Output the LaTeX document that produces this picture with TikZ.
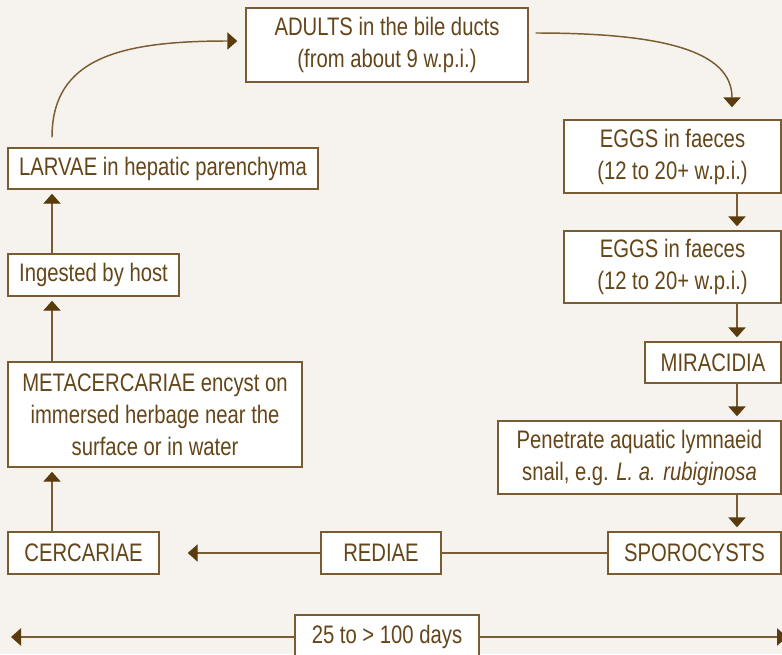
\documentclass[tikz,border=0pt]{standalone}
\usepackage{fontspec}
\setmainfont{Liberation Sans}[FakeStretch=0.80]
\usetikzlibrary{arrows.meta,calc}
\definecolor{paper}{HTML}{F6F3EE}
\definecolor{ink}{HTML}{654619}
\definecolor{rulec}{HTML}{7A5C32}
\definecolor{tipc}{HTML}{5A3B0C}

\tikzset{
  box/.style={draw=rulec,line width=1.1pt,fill=white,text=ink,inner sep=0pt,
    align=center,font=\fontsize{19}{24}\selectfont},
  wh/.style 2 args={minimum width=#1*0.75pt,minimum height=#2*0.75pt},
  plain/.style={draw=rulec,line width=1.1pt},
  link/.style={plain,shorten >=3pt,
    -{Triangle[length=7.5pt,width=13pt,fill=tipc,color=tipc]}}
}

\begin{document}
\begin{tikzpicture}[x=0.75pt,y=-0.75pt]

% canvas
\fill[paper] (0,0) rectangle (782,654);
\useasboundingbox (0,0) rectangle (782,654);

% stages of the life cycle
\node[box,wh={282}{74}] (adults) at (387,45) {ADULTS in the bile ducts\\(from about 9 w.p.i.)};
\node[box,wh={217}{73}] (eggs1) at (672.5,156.5) {EGGS in faeces\\(12 to 20+ w.p.i.)};
\node[box,wh={217}{72}] (eggs2) at (672.5,267) {EGGS in faeces\\(12 to 20+ w.p.i.)};
\node[box,wh={136}{41}] (mira) at (713,362.5) {MIRACIDIA};
\node[box,wh={283}{73}] (snail) at (639.5,457.5) {Penetrate aquatic lymnaeid\\snail, e.g. \textit{L. a. rubiginosa}};
\node[box,wh={173}{42}] (sporo) at (694.5,553) {SPOROCYSTS};
\node[box,wh={120}{42}] (rediae) at (381,553) {REDIAE};
\node[box,wh={151}{42}] (cerc) at (83.5,553) {CERCARIAE};
\node[box,wh={294}{105}] (meta) at (155,414.5) {METACERCARIAE encyst on\\immersed herbage near the\\surface or in water};
\node[box,wh={171}{42}] (ingest) at (93.5,275) {Ingested by host};
\node[box,wh={310}{41}] (larvae) at (163,168.5) {LARVAE in hepatic parenchyma};
\node[box,wh={184}{44}] (days) at (387,637) {25 to > 100 days};

% guide columns for the vertical connectors
\coordinate (rx) at (737,0);
\coordinate (lx) at (52,0);
\coordinate (ex) at (732,0);

% right column, downwards
\draw[link] (eggs1.south -| rx) -- (eggs2.north -| rx);
\draw[link] (eggs2.south -| rx) -- (mira.north -| rx);
\draw[link] (mira.south -| rx) -- (snail.north -| rx);
\draw[link] (snail.south -| rx) -- (sporo.north -| rx);

% bottom row, leftwards
\draw[plain] (sporo.west) -- (rediae.east);
\draw[link,shorten >=21pt] (rediae.west) -- (cerc.east);

% left column, upwards
\draw[link] (cerc.north -| lx) -- (meta.south -| lx);
\draw[link] (meta.north -| lx) -- (ingest.south -| lx);
\draw[link] (ingest.north -| lx) -- (larvae.south -| lx);

% curved links at the top
\coordinate (lv) at ($(larvae.north -| lx)+(0,-10)$);
\coordinate (aw) at ($(adults.west)+(-8,-4)$);
\draw[link,shorten >=0pt] (lv) .. controls (52,58) and (120,41) .. (aw);
\coordinate (ae) at ($(adults.east)+(7,-12)$);
\coordinate (en) at ($(eggs1.north -| ex)+(0,-12)$);
\draw[link,shorten >=0pt] (ae) .. controls (660,33) and (732,50) .. (en);

% duration bar
\coordinate (dl) at (11,637);
\coordinate (dr) at (787,637);
\draw[link,shorten >=0pt] (days.west) -- (dl);
\draw[link,shorten >=0pt] (days.east) -- (dr);
\end{tikzpicture}
\end{document}
